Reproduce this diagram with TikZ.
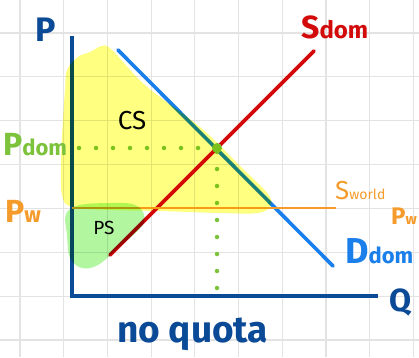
\documentclass[tikz,border=0pt]{standalone}
\usepackage{fontspec}
\setmainfont{Fira Sans}
\usepackage{tikz}
\newcommand{\hw}[1]{\fontsize{#1}{#1}\selectfont}
\definecolor{axisblue}{HTML}{0B4A96}
\definecolor{demblue}{HTML}{1A7FEA}
\definecolor{supred}{HTML}{D30A0A}
\definecolor{worldorange}{HTML}{F59B2B}
\definecolor{domgreen}{HTML}{7CC23A}
\definecolor{hlyellow}{HTML}{FFFF80}
\definecolor{hlgreen}{HTML}{B2F7A0}
\tikzset{
	gridline/.style={gray!22, line width=1.2pt},
	curve/.style={line width=3.6pt, line cap=round},
	dotline/.style={domgreen, line width=4.5pt, line cap=round, dash pattern=on 0pt off 17pt},
	handtext/.style={font=\bfseries, anchor=base west, inner sep=0pt}
}

\begin{document}
\begin{tikzpicture}[x=1pt,y=-1pt]
		\useasboundingbox (0,0) rectangle (419,357);
		\fill[white] (0,0) rectangle (419,357);
		% grid paper
		\foreach \i in {0,...,9} \draw[gridline] (20+43.7*\i,0) -- (20+43.7*\i,357);
		\foreach \j in {0,...,7} \draw[gridline] (0,33+43.86*\j) -- (419,33+43.86*\j);
		% axes
		\draw[axisblue, line width=3.8pt] (72,36) -- (72,296) -- (378,296);
		\node[axisblue, font=\bfseries] (plabel) at (46,30) {\hw{34}P};
		\node[axisblue, font=\bfseries] (qlabel) at (401,302) {\hw{32}Q};
		% curves
		\draw[curve, demblue] (118,50) -- (333,266);
		\draw[curve, supred] (110,255) -- (314,51);
		\draw[worldorange, line width=2.2pt] (72,208) -- (336,208);
		\coordinate (E) at (217,148);
		\draw[dotline] (79,148) -- (E);
		\draw[dotline] (217,288) -- (E);
		\fill[domgreen] (E) circle (5);
		% highlighter
		\begin{scope}[blend mode=multiply]
			\fill[hlyellow] plot[smooth cycle, tension=0.6] coordinates {(67,70) (78,57) (90,52) (102,46) (112,50) (146,86) (200,127) (240,166) (268,194) (270,206) (258,213) (220,213) (160,211) (110,210) (72,207) (62,195) (61,160) (63,120) (65,90)};
			\fill[hlgreen] plot[smooth cycle, tension=0.6] coordinates {(66,214) (80,205) (110,203) (132,204) (143,212) (142,226) (118,248) (98,265) (82,268) (70,258) (67,235)};
		\end{scope}
		% labels
		\node[supred, handtext] (sdom) at (301,38) {\hw{32}S\hw{24}dom};
		\node[demblue, handtext] (ddom) at (345,263) {\hw{36}D\hw{22}dom};
		\node[worldorange, handtext, font=\mdseries] (sworld) at (335,199) {\hw{26}S\hw{14}world};
		\node[worldorange, handtext] (pwright) at (391,224) {\hw{24}P\hw{15}w};
		\node[domgreen, handtext] (pdom) at (3,155) {\hw{32}P\hw{22}dom};
		\node[worldorange, handtext] (pw) at (5,222) {\hw{32}P\hw{22}w};
		\node (cs) at (132,121) {\hw{26}CS};
		\node (ps) at (104,228) {\hw{19}PS};
		\node[axisblue, handtext] (title) at (117,342) {\hw{37}no quota};
\end{tikzpicture}
\end{document}
